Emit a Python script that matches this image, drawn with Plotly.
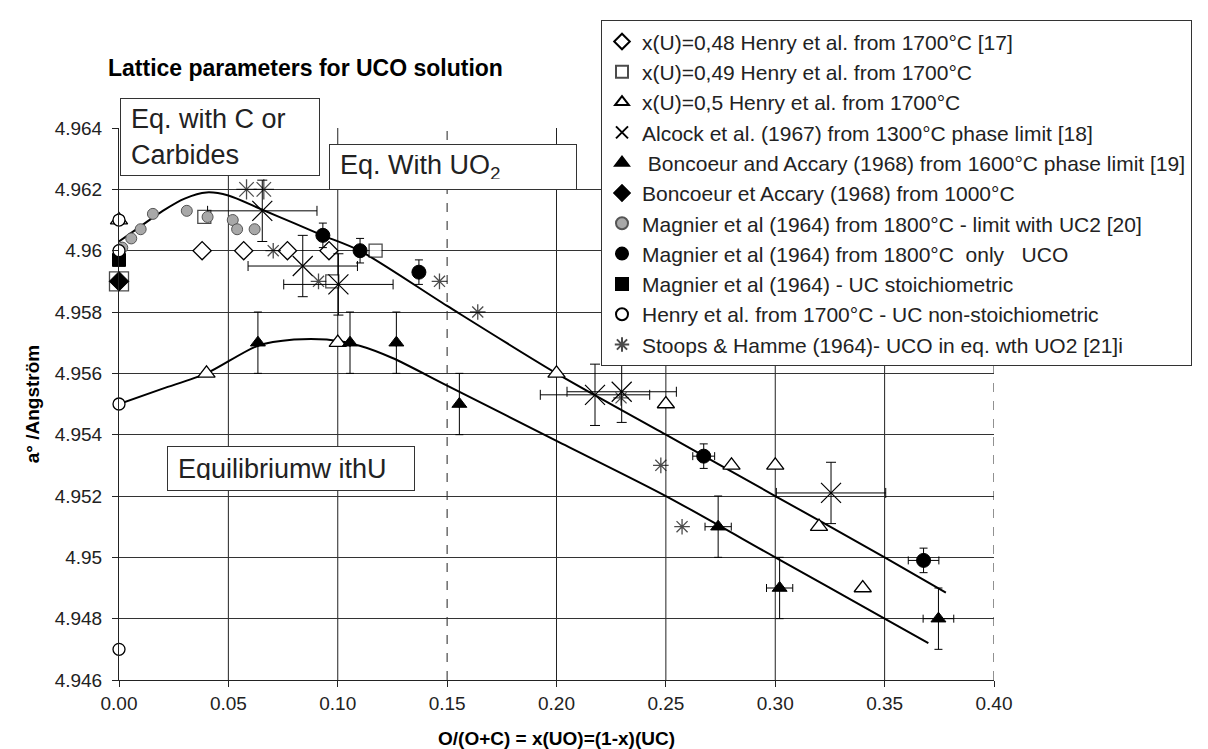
import plotly.graph_objects as go

FONT = "Liberation Sans, Arial, sans-serif"

# ---------------- axes ----------------
X_TICKS = [0.00, 0.05, 0.10, 0.15, 0.20, 0.25, 0.30, 0.35, 0.40]
X_TICK_TEXT = ["0.00", "0.05", "0.10", "0.15", "0.20", "0.25", "0.30", "0.35", "0.40"]
X_DASHED = [0.15, 0.40]
Y_TICKS = [4.946, 4.948, 4.950, 4.952, 4.954, 4.956, 4.958, 4.960, 4.962, 4.964]
Y_TICK_TEXT = ["4.946", "4.948", "4.95", "4.952", "4.954", "4.956", "4.958", "4.96", "4.962", "4.964"]

# ---------------- data ----------------
HENRY48_X = [0.038, 0.057, 0.077, 0.096]
HENRY48_Y = [4.9600, 4.9600, 4.9600, 4.9600]

HENRY49_X = [0.039, 0.0975, 0.1173, 0.000]
HENRY49_Y = [4.9611, 4.9590, 4.9600, 4.9590]

HENRY50_X = [0.000, 0.040, 0.100, 0.200, 0.250, 0.280, 0.300, 0.320, 0.340]
HENRY50_Y = [4.9610, 4.9560, 4.9570, 4.9560, 4.9550, 4.9530, 4.9530, 4.9510, 4.9490]

ALCOCK_X = [0.0655, 0.0840, 0.1003, 0.2176, 0.2298, 0.3255]
ALCOCK_Y = [4.9613, 4.9595, 4.9589, 4.9553, 4.9554, 4.9521]
ALCOCK_XERR = [0.025, 0.025, 0.025, 0.025, 0.025, 0.025]
ALCOCK_YERR = [0.001, 0.001, 0.001, 0.001, 0.001, 0.001]

BONC1600_X = [0.0635, 0.1056, 0.1268, 0.1556, 0.2739, 0.3020, 0.3746]
BONC1600_Y = [4.9570, 4.9570, 4.9570, 4.9550, 4.9510, 4.9490, 4.9480]
BONC1600_XERR = [0, 0, 0, 0, 0.006, 0.006, 0.007]
BONC1600_YERR = [0.001, 0.001, 0.001, 0.001, 0.001, 0.001, 0.001]

BONC1000_X = [0.000]
BONC1000_Y = [4.9590]

MAGLIM_X = [0.0015, 0.0056, 0.0099, 0.0155, 0.0310, 0.0405, 0.0520, 0.0540, 0.0620]
MAGLIM_Y = [4.9601, 4.9604, 4.9607, 4.9612, 4.9613, 4.9611, 4.9610, 4.9607, 4.9607]

MAGUCO_X = [0.0932, 0.1102, 0.1371, 0.2673, 0.3678]
MAGUCO_Y = [4.9605, 4.9600, 4.9593, 4.9533, 4.9499]
MAGUCO_XERR = [0, 0, 0, 0.005, 0.007]
MAGUCO_YERR = [0.0004, 0.0004, 0.0004, 0.0004, 0.0004]

MAGUC_X = [0.000]
MAGUC_Y = [4.9597]

HENRYUC_X = [0.000, 0.000, 0.000, 0.000]
HENRYUC_Y = [4.9610, 4.9600, 4.9550, 4.9470]

STOOPS_X = [0.0583, 0.0662, 0.0705, 0.0912, 0.1465, 0.1640, 0.2295, 0.2477, 0.2574]
STOOPS_Y = [4.9620, 4.9620, 4.9600, 4.9590, 4.9590, 4.9580, 4.9552, 4.9530, 4.9510]

UPPER_X = [0.000, 0.010, 0.020, 0.030, 0.040, 0.050, 0.065, 0.080, 0.093, 0.110,
           0.150, 0.200, 0.250, 0.300, 0.350, 0.378]
UPPER_Y = [4.9603, 4.9608, 4.9613, 4.9617, 4.9619, 4.9618, 4.96135, 4.9609, 4.9605, 4.9600,
           4.9582, 4.9560, 4.9540, 4.9520, 4.9500, 4.94885]

LOWER_X = [0.000, 0.020, 0.040, 0.0635, 0.080, 0.095, 0.110, 0.125, 0.150, 0.200,
           0.250, 0.300, 0.350, 0.370]
LOWER_Y = [4.9550, 4.9555, 4.9560, 4.9569, 4.9571, 4.9571, 4.9569, 4.9565, 4.9556, 4.9538,
           4.9520, 4.9500, 4.9480, 4.9472]

NAMES = [
    "x(U)=0,48 Henry et al. from 1700°C [17]",
    "x(U)=0,49 Henry et al. from 1700°C",
    "x(U)=0,5 Henry et al. from 1700°C",
    "Alcock et al. (1967) from 1300°C phase limit [18]",
    " Boncoeur and Accary (1968) from 1600°C phase limit [19]",
    "Boncoeur et Accary (1968) from 1000°C",
    "Magnier et al (1964) from 1800°C - limit with UC2 [20]",
    "Magnier et al (1964) from 1800°C  only   UCO",
    "Magnier et al (1964) - UC stoichiometric",
    "Henry et al. from 1700°C - UC non-stoichiometric",
    "Stoops & Hamme (1964)- UCO in eq. wth UO2 [21]i",
]

fig = go.Figure()

# curves (no legend)
for cx, cy in [(UPPER_X, UPPER_Y), (LOWER_X, LOWER_Y)]:
    fig.add_trace(go.Scatter(x=cx, y=cy, mode="lines", showlegend=False,
                             line=dict(color="black", width=2, shape="spline", smoothing=0.8),
                             hoverinfo="skip", cliponaxis=False))

BL = dict(color="black", width=1.3)


def err(arr, w):
    return dict(type="data", array=arr, color="black", thickness=1, width=w, visible=True)


fig.add_trace(go.Scatter(x=HENRY48_X, y=HENRY48_Y, mode="markers", name=NAMES[0], legendgroup="g0",
                         marker=dict(symbol="diamond", size=14, color="white", line=BL)))
fig.add_trace(go.Scatter(x=HENRY49_X, y=HENRY49_Y, mode="markers", name=NAMES[1], legendgroup="g1",
                         marker=dict(symbol="square", size=[13, 13, 13, 19], color="white", line=BL)))
fig.add_trace(go.Scatter(x=HENRY50_X, y=HENRY50_Y, mode="markers", name=NAMES[2], legendgroup="g2",
                         marker=dict(symbol="triangle-up", size=15, color="white", line=BL)))
fig.add_trace(go.Scatter(x=ALCOCK_X, y=ALCOCK_Y, mode="markers", name=NAMES[3], legendgroup="g3",
                         marker=dict(symbol="x-thin", size=20, color="black", line=dict(color="black", width=1.2)),
                         error_x=err(ALCOCK_XERR, 5), error_y=err(ALCOCK_YERR, 5)))
fig.add_trace(go.Scatter(x=BONC1600_X, y=BONC1600_Y, mode="markers", name=NAMES[4], legendgroup="g4",
                         marker=dict(symbol="triangle-up", size=13, color="black", line=dict(color="black", width=1)),
                         error_x=err(BONC1600_XERR, 4), error_y=err(BONC1600_YERR, 4)))
fig.add_trace(go.Scatter(x=BONC1000_X, y=BONC1000_Y, mode="markers", name=NAMES[5], legendgroup="g5",
                         marker=dict(symbol="diamond", size=15, color="black", line=dict(color="black", width=1))))
fig.add_trace(go.Scatter(x=MAGLIM_X, y=MAGLIM_Y, mode="markers", name=NAMES[6], legendgroup="g6",
                         marker=dict(symbol="circle", size=11, color="#a8a8a8", line=dict(color="#555555", width=1))))
fig.add_trace(go.Scatter(x=MAGUCO_X, y=MAGUCO_Y, mode="markers", name=NAMES[7], legendgroup="g7",
                         marker=dict(symbol="circle", size=14, color="black", line=dict(color="black", width=1)),
                         error_x=err(MAGUCO_XERR, 4), error_y=err(MAGUCO_YERR, 4)))
fig.add_trace(go.Scatter(x=MAGUC_X, y=MAGUC_Y, mode="markers", name=NAMES[8], legendgroup="g8",
                         marker=dict(symbol="square", size=13, color="black", line=dict(color="black", width=1))))
fig.add_trace(go.Scatter(x=HENRYUC_X, y=HENRYUC_Y, mode="markers", name=NAMES[9], legendgroup="g9",
                         marker=dict(symbol="circle", size=12, color="white", line=BL)))
fig.add_trace(go.Scatter(x=STOOPS_X, y=STOOPS_Y, mode="markers", name=NAMES[10], legendgroup="g10",
                         marker=dict(symbol="asterisk", size=[17, 17, 13, 13, 13, 13, 13, 13, 13],
                                     color="black", line=dict(color="black", width=1.3))))

for tr in fig.data:
    tr.cliponaxis = False
    tr.hoverinfo = "x+y"

# vertical gridlines (dashed at selected ticks)
for v in X_TICKS[1:]:
    fig.add_shape(type="line", xref="x", yref="paper", x0=v, x1=v, y0=0, y1=1,
                  line=dict(color="#222222", width=1, dash="dash" if v in X_DASHED else "solid"),
                  layer="below")

# plot area in pixels: x 111..986, y 115..674
L, R, T, B = 111, 986, 115, 674
W, H = 1208, 749


def px(xp):
    return (xp - L) / (R - L)


def py(yp):
    return (B - yp) / (B - T)


box_font = dict(family=FONT, size=27, color="#222222")
fig.add_annotation(xref="paper", yref="paper", x=px(112), y=py(85), xanchor="left", yanchor="top",
                   text="Eq. with C or<br>Carbides", showarrow=False, align="left", valign="middle",
                   width=178, height=56, borderpad=10, borderwidth=1, bordercolor="#333333",
                   bgcolor="white", font=box_font)
fig.add_annotation(xref="paper", yref="paper", x=px(321), y=py(131), xanchor="left", yanchor="top",
                   text="Eq. With UO<sub>2</sub>", showarrow=False, align="left", valign="middle",
                   width=226, height=24, borderpad=10, borderwidth=1, bordercolor="#333333",
                   bgcolor="white", font=box_font)
fig.add_annotation(xref="paper", yref="paper", x=px(159), y=py(437), xanchor="left", yanchor="top",
                   text="Equilibriumw ithU", showarrow=False, align="left", valign="middle",
                   width=226, height=23, borderpad=10, borderwidth=1, bordercolor="#333333",
                   bgcolor="white", font=box_font)

fig.update_layout(
    width=W, height=H,
    margin=dict(l=L, r=W - R, t=T, b=H - B),
    paper_bgcolor="white", plot_bgcolor="white",
    font=dict(family=FONT, color="#222222", size=19),
    title=dict(text="<b>Lattice parameters for UCO solution</b>", xref="container", yref="container",
               x=100 / W, y=1 - 60 / H, xanchor="left", yanchor="middle",
               font=dict(family=FONT, size=23, color="black")),
    showlegend=True,
    legend=dict(x=px(593), y=py(6), xanchor="left", yanchor="top", bgcolor="white",
                bordercolor="#333333", borderwidth=1, font=dict(family=FONT, size=21, color="#222222"),
                tracegroupgap=0, itemsizing="constant", indentation=0),
    xaxis=dict(range=[0, 0.400001], tickvals=X_TICKS, ticktext=X_TICK_TEXT, showgrid=False,
               zeroline=False, showline=True, linecolor="#222222", linewidth=1,
               ticks="outside", ticklen=6, tickcolor="#222222", tickfont=dict(size=19),
               title=dict(text="<b>O/(O+C) = x(UO)=(1-x)(UC)</b>", font=dict(size=19, color="black"), standoff=18)),
    yaxis=dict(range=[4.946, 4.964001], tickvals=Y_TICKS, ticktext=Y_TICK_TEXT, showgrid=True,
               gridcolor="#333333", gridwidth=1, zeroline=False, showline=True, linecolor="#222222",
               linewidth=1, ticks="outside", ticklen=6, tickcolor="#222222", tickfont=dict(size=19),
               ticklabelstandoff=6,
               title=dict(text="<b>a° /Angström</b>", font=dict(size=19, color="black"), standoff=10)),
)

fig.write_html("out.html")
